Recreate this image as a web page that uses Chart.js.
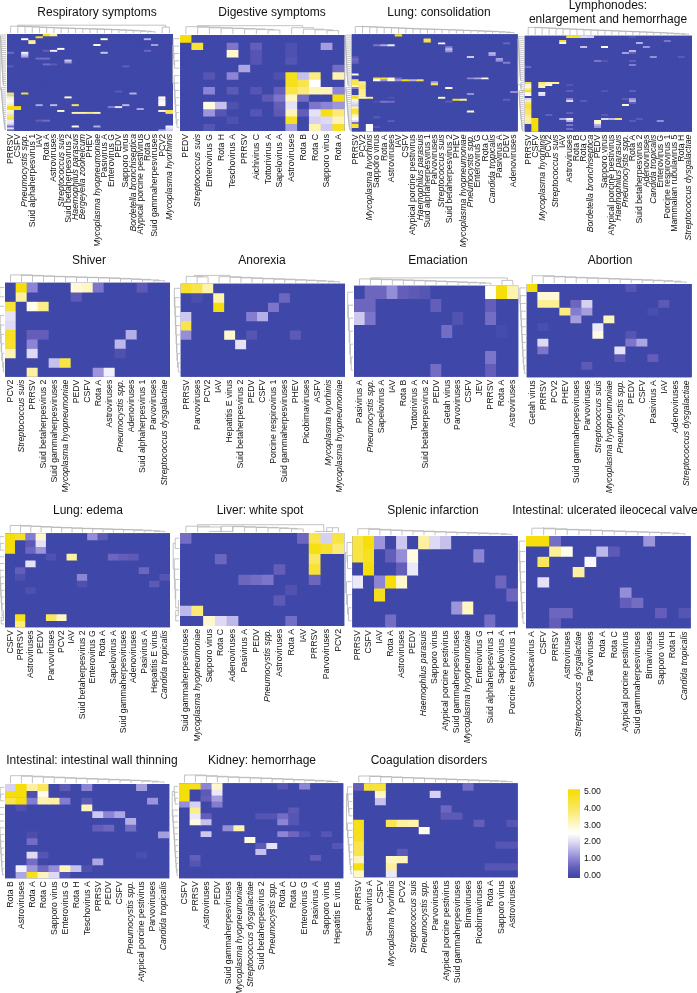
<!DOCTYPE html>
<html><head><meta charset="utf-8">
<style>html,body{margin:0;padding:0;background:#fff;width:697px;height:993px;overflow:hidden;position:relative}canvas{position:absolute}</style>
<script src="https://cdn.jsdelivr.net/npm/chart.js@4"></script>
</head><body>
<script>
// ---------- DATA: column labels and sparse heat values [row, column, value]; every other cell is 0 ----------
const respLabels=["PRRSV","CSFV","Pneumocystis spp.","Suid alphaherpesvirus 1","IAV","Rota A","Astroviruses","Streptococcus suis","Suid betaherpesvirus 2","Haemophilus parasuis","Bergeyella zoohelcum","PHEV","Mycoplasma hyopneumoniae","Pasivirus A","Enterovirus G","PEDV","Sapporo virus","Bordetella bronchiseptica","Atypical porcine pestivirus","Rota C","Suid gammaherpesviruses","PCV2","Mycoplasma hyorhinis"];
const respRowCount=50;
const respCells=[[0,5,4.8],[0,6,3.4],[1,4,4.8],[2,13,3],[2,2,2.5],[2,19,1.5],[3,3,3.5],[4,3,3.5],[5,12,2.8],[5,20,1.3],[7,7,2.6],[8,6,2.3],[8,5,.5],[8,19,.6],[9,0,.7],[9,2,2.3],[9,13,1.8],[10,2,1.8],[11,2,1.4],[12,4,.7],[12,5,.7],[13,8,1.8],[14,8,1.2],[15,5,.7],[15,6,.4],[16,0,.4],[16,16,.5],[29,15,.4],[30,0,4.3],[30,2,4.5],[30,17,1.5],[31,0,1.8],[32,0,3.3],[32,8,3],[32,21,2.8],[33,0,3],[33,21,2.2],[34,0,2.6],[34,21,2.4],[35,0,2.3],[35,21,2.6],[36,0,3.5],[36,4,1.4],[36,6,1.6],[36,9,4],[36,16,1.6],[36,21,2.9],[37,0,5],[37,1,5],[37,14,.9],[37,15,2.2],[38,0,5],[38,1,5],[38,18,1.4],[39,0,3],[39,7,3],[39,21,3],[39,22,4.2],[40,0,3.3],[40,9,3.3],[40,10,3.3],[40,11,3.7],[40,12,3.2],[40,22,4.2],[41,0,2.1],[42,0,4],[43,0,4.5],[44,0,2.2],[44,4,.5],[44,5,.7],[45,0,2.2],[46,0,1.8],[47,0,.7],[47,9,2.7],[47,12,1.5],[47,22,2.3],[48,0,2],[48,22,2],[49,0,.6],[49,21,1.3],[49,22,1.8]];

const digLabels=["PEDV","Streptococcus suis","Enterovirus G","Rota H","Teschovirus A","PRRSV","Aichivirus C","Tottorivirus A","Sapelovirus A","Astroviruses","Rota B","Rota C","Sapporo virus","Rota A"];
const digRowCount=13;
const digCells=[[0,0,5],[1,1,4.5],[1,4,.8],[1,6,.5],[1,9,.2],[1,12,1.3],[2,4,3],[2,6,.3],[2,9,.2],[3,6,.3],[3,9,.3],[4,5,1.4],[4,13,.7],[5,2,.3],[5,4,1],[5,8,.2],[5,9,4.8],[5,10,1.7],[5,11,3.7],[5,13,3.3],[6,9,4.8],[6,10,4.2],[6,11,2.5],[7,2,1],[7,4,.4],[7,6,.3],[7,8,.5],[7,9,4.2],[7,10,3.8],[7,11,3.2],[7,12,3.2],[7,13,1],[8,7,.4],[8,8,.8],[8,9,3.1],[8,10,.7],[8,13,5],[9,2,2.8],[9,3,1.7],[9,4,.2],[9,8,.5],[9,9,2.1],[9,11,.8],[9,12,1],[9,13,1.2],[10,2,1.2],[10,3,.3],[10,6,.3],[10,8,.4],[10,9,3.2],[10,10,.5],[10,11,2.1],[10,12,4.9],[10,13,3.8],[11,4,.2],[11,9,4.8],[11,11,1.9],[11,12,2],[11,13,3.2],[12,2,.3],[12,9,1.3],[12,11,3.3],[12,12,1.8],[12,13,4.7]];

const lungLabels=["PRRSV","PCV2","Mycoplasma hyorhinis","Sapporo virus","Rota A","Astroviruses","IAV","CSFV","Atypical porcine pestivirus","Haemophilus parasuis","Suid alphaherpesvirus 1","Parvoviruses","Streptococcus suis","Suid betaherpesvirus 2","PHEV","Mycoplasma hyopneumoniae","Pneumocystis spp.","Enterovirus G","Rota C","Candida tropicalis","Pasivirus A","PDEV","Adenoviruses"];
const lungRowCount=50;
const lungCells=[[0,6,5],[2,10,4.3],[3,10,4.3],[4,12,2.8],[4,21,.6],[5,3,.8],[5,4,1.4],[5,5,2.2],[6,13,1],[7,13,1.6],[8,13,1.2],[9,19,1.6],[10,19,1.3],[11,16,1.8],[11,0,.3],[12,20,1.3],[12,0,.6],[13,20,1.1],[13,0,.6],[14,21,.9],[14,0,.5],[20,0,2.7],[22,3,4.4],[22,4,4.6],[22,5,3],[22,6,.7],[22,16,1],[22,17,1.4],[22,18,2.7],[23,0,4.2],[23,3,2.5],[23,4,1.2],[23,5,2.8],[23,6,1.2],[23,7,5],[23,8,1.5],[23,9,4.2],[24,0,4],[24,1,3.5],[24,11,1.4],[25,0,4.2],[25,1,3.8],[25,11,4.2],[26,0,3],[26,1,4],[27,0,1],[27,1,4],[27,13,2.7],[28,1,3.5],[29,1,3.5],[29,22,1.1],[30,1,3.5],[30,16,1.1],[31,0,4.4],[31,1,3.3],[32,0,5],[32,1,3],[32,2,3.6],[32,12,3],[32,5,.2],[33,0,3],[33,14,4.8],[33,15,3.5],[33,21,.5],[34,0,2.2],[34,3,.2],[34,4,.8],[34,5,.7],[34,13,.4],[35,0,2],[36,0,1.8],[37,0,3.2],[38,0,4.5],[39,0,4.5],[39,16,3],[40,0,4.3],[41,0,3.3],[42,0,3],[42,3,.4],[43,0,2.6],[44,0,2],[44,5,.5],[45,0,.8],[46,0,4.6],[46,2,2.5],[47,0,4.5],[47,2,2.5],[47,3,.3],[48,2,2.5],[49,2,2.5]];

const lymphLabels=["PRRSV","CSFV","Mycoplasma hyorhinis","PCV2","Streptococcus suis","IAV","Astroviruses","Rota B","Rota C","Bordetella bronchiseptica","PEDV","Sapporo virus","Atypical porcine pestivirus","Haemophilus parasuis","Pneumocystis spp.","Rota A","Suid betaherpesvirus 2","Adenoviruses","Candida tropicalis","Enterovirus G","Porcine respirovirus 1","Mammalian rubulavirus 5","Rota H","Streptococcus dysgalactiae"];
const lymphRowCount=48;
const lymphCells=[[0,6,4.6],[0,7,4.8],[0,8,2],[0,9,1.9],[0,15,.3],[2,5,4.6],[2,20,.8],[3,5,3],[3,16,1.5],[5,8,1.7],[5,11,2.7],[5,17,1.2],[7,15,1.6],[8,14,1.3],[8,15,.5],[10,18,1.1],[10,22,.4],[12,10,.8],[12,11,.3],[12,15,.5],[14,15,.9],[15,0,.6],[23,0,4.5],[23,2,3.8],[23,3,3.3],[23,4,3.4],[24,0,2.3],[24,2,3.4],[24,3,3],[24,6,.3],[25,0,2.9],[25,2,3.3],[26,0,3.7],[27,0,4.7],[27,6,.5],[27,11,.3],[27,15,.5],[28,0,3],[28,2,2.2],[29,0,2.6],[29,2,2],[31,0,2],[31,6,1],[31,14,.4],[31,15,1.2],[32,0,2.2],[32,6,2],[32,8,.4],[32,15,1.5],[33,0,4],[33,15,.5],[34,0,4.4],[34,14,3],[35,0,4.5],[36,0,4.2],[37,0,4],[38,0,4],[38,6,.5],[39,0,3.8],[39,3,.5],[39,11,.4],[40,0,3.5],[41,0,3.4],[41,1,5],[41,5,1.4],[41,6,2.3],[41,11,2],[41,12,1.6],[41,13,4],[41,16,.4],[42,0,3.5],[42,1,5],[42,6,1.6],[42,10,3],[42,15,.4],[42,19,1.1],[43,0,3.6],[43,1,5],[43,10,3],[44,1,5],[44,6,.8],[44,10,1.5],[45,1,5],[45,10,1.2],[46,1,5],[46,6,.7],[47,1,5]];

const shiverLabels=["PCV2","Streptococcus suis","PRRSV","Suid betaherpesvirus 2","Suid gammaherpesviruses","Mycoplasma hyopneumoniae","PEDV","CSFV","Rota A","Astroviruses","Pneumocystis spp.","Adenoviruses","Suid alphaherpesvirus 1","Parvoviruses","Streptococcus dysgalactiae"];
const shiverRowCount=10;
const shiverCells=[[0,1,5],[0,2,1],[0,6,2.9],[0,7,3.1],[0,8,.8],[0,12,.4],[1,1,3.4],[1,6,.4],[2,0,4.5],[2,2,2.7],[2,3,3.6],[3,0,2.1],[4,0,2],[5,0,4.7],[5,2,.5],[5,3,.5],[5,11,1.5],[6,0,4.6],[6,2,1],[6,10,1.6],[7,0,3.2],[7,2,2],[7,10,.2],[8,4,1.7],[8,5,4.3],[9,2,3.4],[9,8,1.2],[9,9,2.3]];

const anorexiaLabels=["PRRSV","Parvoviruses","PCV2","IAV","Hepatitis E virus","Suid betaherpesvirus 2","PEDV","CSFV","Porcine respirovirus 1","Suid gammaherpesviruses","PHEV","Picobirnaviruses","ASFV","Mycoplasma hyorhinis","Mycoplasma hyopneumoniae"];
const anorexiaRowCount=10;
const anorexiaCells=[[0,0,4.6],[0,1,4.2],[0,2,3.3],[1,1,.15],[1,3,3.3],[1,9,.6],[2,3,5],[2,8,.8],[3,0,1.8],[3,6,.9],[3,7,1.5],[4,0,4.2],[5,0,1.1],[5,4,3],[5,6,.3],[5,10,.4],[6,5,2.1]];

const emaciationLabels=["Pasivirus A","Pneumocystis spp.","Sapelovirus A","IAV","Rota B","Tottorivirus A","Suid betaherpesvirus 2","PEDV","Getah virus","Parvoviruses","CSFV","JEV","PRRSV","Rota A","Astroviruses"];
const emaciationRowCount=7;
const emaciationCells=[[0,1,.6],[0,2,.6],[0,3,1.1],[0,4,.5],[0,5,.4],[0,6,.3],[0,12,2.6],[0,13,5],[0,14,3.3],[1,0,.6],[1,1,.6],[1,7,.5],[1,12,.5],[2,0,1.8],[2,1,.8],[2,9,.25],[2,12,.7],[3,8,.7],[3,13,.1],[5,12,.8],[6,7,.7],[6,12,.5]];

const abortionLabels=["Getah virus","PRRSV","PCV2","PHEV","Suid gammaherpesviruses","Parvoviruses","Streptococcus suis","Mycoplasma hyopneumoniae","Pneumocystis spp.","PEDV","CSFV","Pasivirus A","IAV","Adenoviruses","Streptococcus dysgalactiae"];
const abortionRowCount=12;
const abortionCells=[[0,0,5],[0,9,.3],[1,1,2.9],[1,2,2.9],[2,1,3.5],[2,2,3.5],[2,4,.6],[2,5,1.9],[2,12,.4],[3,3,3.7],[3,4,.9],[3,5,1.3],[3,11,.15],[4,4,1.3],[4,7,3.2],[5,1,.15],[5,6,2.2],[6,6,2.8],[6,9,.3],[7,1,2],[7,9,.8],[7,10,1.4],[8,1,.8],[8,8,2.1],[9,8,.4],[9,11,.5],[10,5,.4]];

const edemaLabels=["CSFV","PRRSV","Astroviruses","PEDV","Parvoviruses","PCV2","IAV","Suid betaherpesvirus 2","Enterovirus G","Rota A","Sapelovirus A","Suid gammaherpesviruses","Adenoviruses","Pasivirus A","Hepatitis E virus","Candida tropicalis"];
const edemaRowCount=14;
const edemaCells=[[0,0,5],[0,1,4.7],[0,2,.9],[0,3,3],[0,8,1.1],[0,9,.4],[1,0,5],[1,2,.4],[1,3,2.1],[2,0,5],[2,2,.6],[2,3,1.2],[3,4,.2],[3,6,3.4],[3,10,.6],[3,11,.5],[3,12,.4],[4,2,2.1],[5,1,.5],[5,13,.6],[6,1,.2],[6,7,1],[6,15,.3],[7,7,.2],[7,14,.4],[8,2,.2],[12,1,4.8],[12,4,4],[12,5,3.1],[13,1,3.7]];

const liverLabels=["Suid gammaherpesviruses","Mycoplasma hyopneumoniae","Sapporo virus","Rota C","Adenoviruses","Pasivirus A","PEDV","Pneumocystis spp.","Astroviruses","Rota A","IAV","PRRSV","Parvoviruses","PCV2"];
const liverRowCount=9;
const liverCells=[[0,0,.7],[0,10,.6],[0,11,4.2],[0,12,1.9],[0,13,4.3],[1,11,4.9],[1,12,4.6],[1,13,3.8],[2,3,.6],[2,11,4],[3,8,.5],[3,11,4.5],[4,5,.6],[4,6,.7],[4,7,.8],[4,11,.6],[5,9,.25],[6,8,.4],[7,0,1.6],[7,1,3.8],[8,2,3],[8,3,2],[8,4,1.6],[8,9,.7]];

const splenicLabels=["PRRSV","CSFV","IAV","Rota A","Astroviruses","PEDV","Haemophilus parasuis","Sapporo virus","Atypical porcine pestivirus","Suid gammaherpesviruses","Mycoplasma hyopneumoniae","Enterovirus G","Suid alphaherpesvirus 1","Sapelovirus A","Porcine respirovirus 1"];
const splenicRowCount=7;
const splenicCells=[[0,0,4.3],[0,1,5],[0,2,1.2],[0,4,1.8],[0,6,3.4],[0,7,2],[0,8,1.7],[1,0,4.3],[1,1,4.7],[1,3,.5],[1,4,1.1],[1,5,2.8],[1,11,1],[2,1,5],[2,4,.5],[2,5,2.2],[3,0,2.2],[3,2,1],[3,3,5],[3,4,3],[3,13,.6],[4,2,4.8],[4,14,.6],[5,9,1.2],[5,10,3.1],[6,3,.7],[6,12,.7]];

const ileoLabels=["Senecavirus A","CSFV","PRRSV","Astroviruses","Streptococcus dysgalactiae","Parvoviruses","Rota A","Rota C","Atypical porcine pestivirus","Suid gammaherpesviruses","Birnaviruses","Sapporo virus","Rota H","Candida tropicalis"];
const ileoRowCount=9;
const ileoCells=[[0,0,5],[0,1,5],[0,2,.7],[0,10,1.2],[1,2,3.5],[1,3,2.7],[1,6,1.6],[1,7,.4],[2,1,4],[2,5,2.4],[3,4,3.4],[4,1,2.1],[5,8,1.1],[6,8,.5],[6,9,.7],[7,2,.6],[7,3,.6],[7,11,.5],[7,13,.3],[8,2,.5]];

const thinningLabels=["Rota B","Astroviruses","Rota A","Rota C","Sapporo virus","Enterovirus G","Rota H","Teschovirus A","PRRSV","PEDV","CSFV","Pneumocystis spp.","Atypical porcine pestivirus","Parvoviruses","Candida tropicalis"];
const thinningRowCount=14;
const thinningCells=[[0,0,1.9],[0,1,5],[0,2,3.4],[0,3,4],[0,5,.4],[0,7,1],[0,12,1.3],[1,0,5],[1,1,5],[1,2,.2],[1,3,2.7],[2,0,4.2],[2,1,4.9],[2,2,.9],[2,3,3.3],[2,4,3.4],[2,5,.9],[2,7,.4],[2,13,1.2],[3,1,.2],[3,7,3.2],[4,8,1.8],[4,9,1],[4,10,1.4],[5,11,1.5],[6,8,.5],[6,9,.6],[6,11,.7],[7,2,.15],[7,14,1.3],[8,2,.7],[10,2,2],[10,3,.3],[10,12,.15],[11,2,.7],[11,8,1.4],[12,1,2.3],[12,2,1.2],[12,3,.6],[12,4,1.1],[12,5,3.2],[12,6,1.7],[12,7,.2],[13,1,1.4],[13,2,4.8],[13,3,3.2],[13,4,2],[13,5,.3]];

const kidneyLabels=["CSFV","PRRSV","Astroviruses","PEDV","Suid gammaherpesviruses","Mycoplasma hyopneumoniae","Streptococcus dysgalactiae","Suid betaherpesvirus 2","Pneumocystis spp.","Rota A","Rota C","Enterovirus G","Pasivirus A","Sapporo virus","Hepatitis E virus"];
const kidneyRowCount=16;
const kidneyCells=[[0,0,5],[0,1,4.8],[0,2,1],[0,3,3],[0,9,.3],[0,11,1],[1,0,5],[1,2,.4],[1,3,2.2],[2,0,5],[2,2,.5],[2,3,1.3],[3,0,1.1],[3,1,1.9],[3,3,.9],[4,1,3.6],[4,10,.4],[5,1,2.2],[5,2,.5],[5,7,.3],[5,8,.3],[5,9,.7],[5,10,.3],[6,1,2.8],[6,2,1.7],[6,9,1],[6,10,.3],[7,4,1.1],[7,5,3.3],[8,2,1.8],[8,9,1],[8,10,.6],[8,11,.2],[8,13,.3],[9,6,2.8],[10,7,.4],[10,8,2.1],[10,14,.3],[11,7,1.7],[12,1,.5],[12,12,.5],[13,1,.3]];

const coagLabels=["PRRSV","Senecavirus A","CSFV","Mycoplasma hyorhinis","PCV2","Streptococcus suis","Pneumocystis spp.","Parvoviruses","Atypical porcine pestivirus","Suid gammaherpesviruses","Birnaviruses","Picobirnaviruses","Rota A","Sapporo virus","Astroviruses"];
const coagRowCount=13;
const coagCells=[[0,0,.5],[0,1,4.4],[0,2,4.4],[0,10,.7],[1,2,3.1],[1,7,1.9],[2,2,1.7],[3,8,.6],[4,8,.4],[4,9,.4],[5,0,4.8],[5,3,4.1],[5,4,3.4],[5,5,3.3],[5,11,.5],[5,14,.3],[6,0,4.8],[6,6,2.7],[7,0,4.7],[8,0,4.2],[8,13,.3],[8,14,.3],[9,0,4.2],[9,4,.4],[10,0,3.2],[10,3,3.1],[10,4,3.2],[11,0,4.9],[11,3,3.4],[11,12,.3],[11,13,.3],[11,14,.3],[12,0,3],[12,3,2.2]];

const legendTicks=[0,1,2,3,4,5];

// ---------- Dendrogram merge heights per leaf; "split" is the first leaf of the second cluster ----------
const respColTree={h:[7,6.8,6.5,6.1,5.8,5.5,5.2,5,4.8,4.6,4.4,4.2,4,3.7,3.4,3.1,2.8,2.4,2,1.5,0,6],split:21,root:8};
const digColTree={h:[7.5,7,6.4,6,5.6,5.2,4.8,4.2,0,6.5,5,4.4,3.6],split:9,root:8.5};
const lungColTree={h:[7,6.8,6.4,6.1,5.8,5.5,5.2,4.9,4.6,4.4,4.2,4,3.8,3.5,3.2,3,2.7,2.4,2.1,1.8,1.4,1],split:99,root:8};
const lymphColTree={h:[7.5,7.2,6.9,6.5,6.2,5.9,5.6,5.3,5,4.7,4.5,4.2,3.9,3.6,3.4,3.1,2.8,2.5,2.2,1.9,1.5,1.1,.8],split:99,root:8};
const shiverColTree={h:[7,6.5,6,5.6,5.2,4.9,4.6,4.3,4,3.5,3,2.5,2,1.2],split:99,root:8};
const anorexiaColTree={h:[6.5,6,0,6.2,5.5,5,4.5,4.1,3.7,3.2,2.8,2.3,1.8,1.2],split:3,root:7.5};
const emaciationColTree={h:[6,5.6,5.2,4.9,4.6,4.2,3.8,3.4,3,2.6,2.2,1.8,0,4.5],split:13,root:7};
const abortionColTree={h:[7.5,6.8,6.3,5.8,5.4,5,4.6,4.2,3.8,3.4,3,2.5,2,1.2],split:99,root:8};
const edemaColTree={h:[7,6.4,6,5.4,5,4.6,4.2,3.9,3.6,3.3,3,2.7,2.3,1.8,1.2],split:99,root:8};
const liverColTree={h:[6,5.2,0,6,5.5,5,4.8,4.3,3.8,3.3,2.6,0,4.5],split:11,root:7.5};
const splenicColTree={h:[6.5,5.8,5.2,4.8,4.4,4,3.6,3.2,2.8,2.5,2.2,1.8,1.4,.9],split:99,root:7.5};
const ileoColTree={h:[7,6.4,5.8,5.4,5,4.6,4.2,3.8,3.4,3,2.6,2.2,1.5],split:99,root:8};
const thinningColTree={h:[7.5,7,6.4,6,5.5,5,4.6,4.2,3.8,3.4,3,2.6,2,1.3],split:99,root:8};
const kidneyColTree={h:[7.5,6.8,6.2,5.6,5.2,4.8,4.4,4,3.5,3,2.6,2.1,1.6,1],split:99,root:8};
const coagColTree={h:[6.5,6,5.5,5,4.6,4.2,3.8,3.4,3,2.6,2.2,1.8,1.4,.9],split:99,root:7};

const denseRowA=[5.6,5.5,5.4,5.3,5.2,5.1,5,4.9,4.8,4.7,4.6,4.5,4.4,4.3,4.2,4.1,4,3.9,3.8,3.7,3.5,3.4,3.3,3.1,3,2.8,0];
const denseRowB=[5,4.8,4.6,4.5,4.3,4.2,4,3.8,3.7,3.5,3.3,3.2,3,2.8,2.6,2.4,2.2,2,1.8,1.6,1.3,1];
const respRowTree={h:denseRowA.concat(denseRowB),split:27,root:6};
const lungRowTree={h:denseRowA.concat(denseRowB),split:27,root:6};
const lymphRowTree={h:denseRowA.concat(denseRowB),split:23,root:6};
const digRowTree={h:[6,5.6,5.2,4.6,0,5,4.6,4.2,3.8,3.4,3,2.2],split:5,root:6.5};
const shiverRowTree={h:[4.5,0,5,4,3.5,3,2.5,1.5,0,3],split:2,root:6};
const anorexiaRowTree={h:[5.5,5,4.6,4.2,3.8,3.4,3,2.4,1.6],split:99,root:6};
const emaciationRowTree={h:[5.5,4.8,4,3.4,2.8,2],split:99,root:6};
const abortionRowTree={h:[6,5.6,5.2,4.8,4.4,4,3.6,3.2,2.8,2.2,1.5],split:99,root:6.5};
const edemaRowTree={h:[4.5,4,0,5,4.6,4.2,3.8,3.4,3,2.6,2.2,0,3],split:3,root:6};
const liverRowTree={h:[4,0,5,4.5,4,3.5,0,3.5],split:2,root:6};
const splenicRowTree={h:[4.5,4,0,5,4,3,0],split:3,root:6};
const ileoRowTree={h:[6,5.4,5,4.6,4.1,3.6,3,2.2],split:99,root:6.5};
const thinningRowTree={h:[4,3.5,0,5.5,5,4.6,4.2,3.8,3.4,3,2.6,2.2,1.6],split:3,root:6};
const kidneyRowTree={h:[4,3.5,3,0,5.4,5,4.6,4.2,3.8,3.4,3,2.6,2.2,1.8,1.2],split:4,root:6};
const coagRowTree={h:[5,4.5,4,3.5,0,5,4.4,3.8,3.2,2.8,2.2,1.6],split:5,root:6};

// ---------- Panels ----------
const titles={resp:"Respiratory symptoms",dig:"Digestive symptoms",lung:"Lung: consolidation",lymph:["Lymphonodes:","enlargement and hemorrhage"],shiver:"Shiver",anorexia:"Anorexia",emaciation:"Emaciation",abortion:"Abortion",edema:"Lung: edema",liver:"Liver: white spot",splenic:"Splenic infarction",ileo:"Intestinal: ulcerated ileocecal valve",thinning:"Intestinal: intestinal wall thinning",kidney:"Kidney: hemorrhage",coag:"Coagulation disorders"};
const panels=[
 ["resp",respLabels,respRowCount,respCells,respColTree,respRowTree],
 ["dig",digLabels,digRowCount,digCells,digColTree,digRowTree],
 ["lung",lungLabels,lungRowCount,lungCells,lungColTree,lungRowTree],
 ["lymph",lymphLabels,lymphRowCount,lymphCells,lymphColTree,lymphRowTree],
 ["shiver",shiverLabels,shiverRowCount,shiverCells,shiverColTree,shiverRowTree],
 ["anorexia",anorexiaLabels,anorexiaRowCount,anorexiaCells,anorexiaColTree,anorexiaRowTree],
 ["emaciation",emaciationLabels,emaciationRowCount,emaciationCells,emaciationColTree,emaciationRowTree],
 ["abortion",abortionLabels,abortionRowCount,abortionCells,abortionColTree,abortionRowTree],
 ["edema",edemaLabels,edemaRowCount,edemaCells,edemaColTree,edemaRowTree],
 ["liver",liverLabels,liverRowCount,liverCells,liverColTree,liverRowTree],
 ["splenic",splenicLabels,splenicRowCount,splenicCells,splenicColTree,splenicRowTree],
 ["ileo",ileoLabels,ileoRowCount,ileoCells,ileoColTree,ileoRowTree],
 ["thinning",thinningLabels,thinningRowCount,thinningCells,thinningColTree,thinningRowTree],
 ["kidney",kidneyLabels,kidneyRowCount,kidneyCells,kidneyColTree,kidneyRowTree],
 ["coag",coagLabels,coagRowCount,coagCells,coagColTree,coagRowTree]
];

// ---------- Layout and style (x0, x1, y0, y1 of the plot; title centre x, y) ----------
const layout={
 resp:[7,173,34,131,96.7,13],dig:[180,344.5,35,131,272,13],lung:[351.7,517.7,34.3,131.5,439,13],lymph:[524.7,692,35.7,131.7,608,13],
 shiver:[5,170,282.7,376.7,89,261],anorexia:[180.7,345,283.7,376.7,262,261],emaciation:[354,518.3,285.7,376.7,438,261],abortion:[526.7,691.7,284,377.3,610,261],
 edema:[5,170,533.3,627.3,88,511],liver:[180,344.3,533,626,260,511],splenic:[352.3,517.7,536,627.3,433,511],ileo:[526,690.7,536,628.3,605,511],
 thinning:[5,169.3,784,878.3,91.7,761],kidney:[179,343.3,783.3,878.3,261.7,761],coag:[353.3,517.7,783.3,877.3,429,761]
};
const FONT="'Liberation Sans', Arial, Helvetica, sans-serif";
const LABEL_SIZE=8.7, TITLE_SIZE=12, TITLE_LH=14, TOP_SPACE=40, AXIS_SPACE=115;
const italicNames=["Pneumocystis spp.","Streptococcus suis","Haemophilus parasuis","Bergeyella zoohelcum","Mycoplasma hyopneumoniae","Mycoplasma hyorhinis","Bordetella bronchiseptica","Streptococcus dysgalactiae","Candida tropicalis"];
const colorStops=[[0,[63,72,168]],[.5,[100,94,186]],[1,[140,132,212]],[1.5,[180,175,230]],[2,[222,218,244]],[2.5,[255,255,255]],[3,[255,248,205]],[4,[250,230,95]],[5,[245,222,10]]];
const DENDRO="#b4b4b4";

function colorFor(v){
  for(let i=1;i<colorStops.length;i++){
    const [a,ca]=colorStops[i-1],[b,cb]=colorStops[i];
    if(v<=b){const t=(v-a)/(b-a);return `rgb(${ca.map((c,k)=>Math.round(c+(cb[k]-c)*t)).join(",")})`;}
  }
  return "rgb(245,222,10)";
}
function cater(tree,a,b,pos,seg){
  let p=pos(b-1),ph=0;
  for(let i=b-2;i>=a;i--){
    const H=tree.h[i]||0.8,q=pos(i);
    seg(q,0,q,H);seg(p,ph,p,H);seg(q,H,p,H);
    p=(q+p)/2;ph=H;
  }
  return [p,ph];
}
function drawTree(tree,n,pos,seg){
  if(tree.split<n){
    const [p1,h1]=cater(tree,0,tree.split,pos,seg),[p2,h2]=cater(tree,tree.split,n,pos,seg);
    seg(p1,h1,p1,tree.root);seg(p2,h2,p2,tree.root);seg(p1,tree.root,p2,tree.root);
  } else {
    const [p,h]=cater(tree,0,n,pos,seg);
    seg(p,h,p,tree.root);
  }
}
const heatPlugin=(colTree,rowTree,nCols,nRows)=>({
  id:"heatBack",
  beforeDatasetsDraw(chart){
    const {ctx,chartArea:a}=chart;
    ctx.save();ctx.fillStyle=colorFor(0);ctx.fillRect(a.left,a.top,a.right-a.left,a.bottom-a.top);ctx.restore();
  },
  afterDraw(chart){
    const {ctx,chartArea:a,scales}=chart;
    ctx.save();ctx.strokeStyle=DENDRO;ctx.lineWidth=.8;ctx.beginPath();
    drawTree(colTree,nCols,i=>scales.x.getPixelForTick(i),(x1,h1,x2,h2)=>{ctx.moveTo(x1,a.top-.8-h1);ctx.lineTo(x2,a.top-.8-h2);});
    drawTree(rowTree,nRows,i=>scales.y.getPixelForValue(i+.5),(y1,h1,y2,h2)=>{ctx.moveTo(a.left-.8-h1,y1);ctx.lineTo(a.left-.8-h2,y2);});
    ctx.stroke();ctx.restore();
  }
});

Chart.defaults.font.family=FONT;
panels.forEach(([key,labels,nRows,cells,colTree,rowTree])=>{
  const [x0,x1,y0,y1,tx,ty]=layout[key];
  const title=titles[key],lines=Array.isArray(title)?title.length:1;
  const halfW=Math.ceil(Math.max(tx-(x0-9),x1+3-tx,110));
  const L=Math.round(tx-halfW),W=2*halfW,T=Math.floor(y0-TOP_SPACE),H=Math.ceil(y1-T+AXIS_SPACE);
  const c=document.createElement("canvas");
  c.width=W;c.height=H;
  c.style.left=L+"px";c.style.top=T+"px";c.style.width=W+"px";c.style.height=H+"px";
  document.body.appendChild(c);
  const matrix=Array.from({length:nRows},()=>labels.map(()=>0));
  cells.forEach(([r,col,v])=>{matrix[r][col]=v;});
  const padTop=ty-T-lines*TITLE_LH/2;
  new Chart(c,{
    type:"bar",
    data:{labels,datasets:matrix.map(row=>({data:row.map(()=>1),backgroundColor:row.map(colorFor),borderWidth:0,barPercentage:1,categoryPercentage:1}))},
    options:{
      responsive:false,animation:false,
      layout:{padding:0},
      plugins:{
        legend:{display:false},tooltip:{enabled:false},
        title:{display:true,text:title,color:"#111",font:{family:FONT,size:TITLE_SIZE,weight:"normal",lineHeight:TITLE_LH/TITLE_SIZE},padding:{top:padTop,bottom:(y0-T)-padTop-lines*TITLE_LH}}
      },
      scales:{
        x:{stacked:true,grid:{display:false,drawTicks:false},border:{display:false},
           afterFit(s){s.height=H-(y1-T);},
           ticks:{autoSkip:false,minRotation:90,maxRotation:90,padding:3,color:"#111",
             font:ctx=>({family:FONT,size:LABEL_SIZE,style:italicNames.includes(labels[ctx.index])?"italic":"normal"})}},
        y:{stacked:true,reverse:true,min:0,max:nRows,ticks:{display:false},grid:{display:false,drawTicks:false},border:{display:false},afterFit(s){s.width=x0-L;}},
        gutter:{axis:"y",position:"right",min:0,max:1,ticks:{display:false},grid:{display:false,drawTicks:false},border:{display:false},afterFit(s){s.width=L+W-x1;}}
      }
    },
    plugins:[heatPlugin(colTree,rowTree,labels.length,nRows)]
  });
});

// ---------- Colour key ----------
const lc=document.createElement("canvas");
lc.width=70;lc.height=110;lc.style.left="560px";lc.style.top="780px";lc.style.width="70px";lc.style.height="110px";
document.body.appendChild(lc);
new Chart(lc,{
  type:"bar",
  data:{labels:["key"],datasets:[{data:[[-.12,5.12]],borderWidth:0,barPercentage:1,categoryPercentage:1,
    backgroundColor(ctx){
      const a=ctx.chart.chartArea;if(!a)return colorFor(0);
      const g=ctx.chart.ctx.createLinearGradient(0,a.bottom,0,a.top);
      colorStops.forEach(([v])=>g.addColorStop((v+.12)/5.24,colorFor(v)));
      return g;
    }}]},
  options:{
    responsive:false,animation:false,
    layout:{padding:{left:8,right:0,top:9,bottom:12}},
    plugins:{legend:{display:false},tooltip:{enabled:false}},
    scales:{
      x:{display:false},
      y:{position:"right",min:-.12,max:5.12,grid:{display:false,drawTicks:false},border:{display:false},
        afterBuildTicks(s){s.ticks=legendTicks.map(value=>({value}));},
        afterFit(s){s.width=50;},
        ticks:{padding:4,color:"#111",font:{family:FONT,size:8.7},callback:v=>Number(v).toFixed(2)}}
    }
  }
});
</script>
</body></html>
